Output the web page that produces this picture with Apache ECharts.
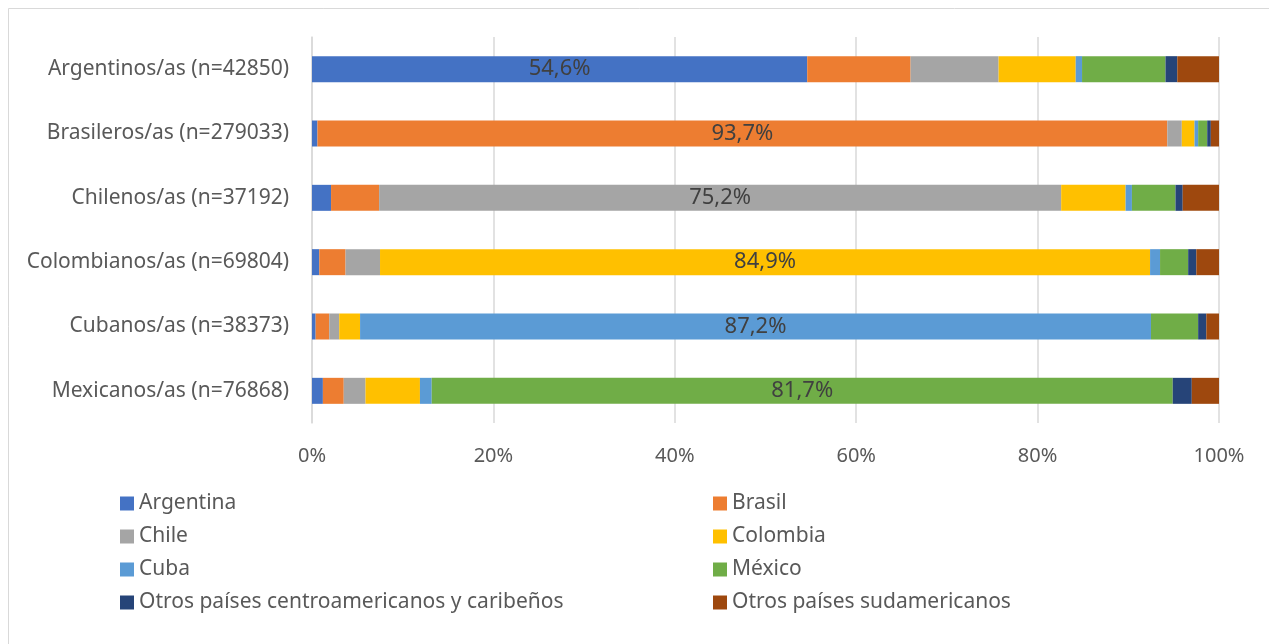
<!DOCTYPE html>
<html>
<head>
<meta charset="utf-8">
<script src="https://cdn.jsdelivr.net/npm/echarts@6/dist/echarts.min.js"></script>
<style>
  html, body { margin: 0; padding: 0; background: #fff; }
  #chart { width: 1269px; height: 644px; }
</style>
</head>
<body>
<div id="chart"></div>
<script>
// Categories (rows, top to bottom)
const categories = [
  "Argentinos/as (n=42850)",
  "Brasileros/as (n=279033)",
  "Chilenos/as (n=37192)",
  "Colombianos/as (n=69804)",
  "Cubanos/as (n=38373)",
  "Mexicanos/as (n=76868)"
];

// Share (%) of each destination country, one value per row
const argentina = [54.6, 0.6, 2.1, 0.8, 0.4, 1.2];
const brasil    = [11.4, 93.7, 5.3, 2.9, 1.5, 2.3];
const chile     = [9.7, 1.6, 75.2, 3.8, 1.1, 2.4];
const colombia  = [8.5, 1.4, 7.1, 84.9, 2.3, 6.0];
const cuba      = [0.7, 0.4, 0.7, 1.1, 87.2, 1.3];
const mexico    = [9.2, 1.0, 4.8, 3.1, 5.2, 81.7];
const otrosCA   = [1.3, 0.4, 0.8, 0.9, 0.9, 2.1];
const otrosSA   = [4.6, 0.9, 4.0, 2.5, 1.4, 3.0];

const seriesNames = [
  "Argentina", "Brasil", "Chile", "Colombia",
  "Cuba", "México", "Otros países centroamericanos y caribeños", "Otros países sudamericanos"
];
const seriesValues = [argentina, brasil, chile, colombia, cuba, mexico, otrosCA, otrosSA];
const colors = ["#4472C4", "#ED7D31", "#A5A5A5", "#FFC000", "#5B9BD5", "#70AD47", "#264478", "#9E480E"];

const xTicks = [0, 20, 40, 60, 80, 100];

const FONT = "'Noto Sans', sans-serif";

const chart = echarts.init(document.getElementById("chart"), null, { renderer: "canvas" });

// only the dominant share of each row carries a label (series i on row i)
const series = seriesNames.map((name, i) => ({
  name: name,
  type: "bar",
  stack: "total",
  barWidth: 26,
  itemStyle: { color: colors[i] },
  data: seriesValues[i].map((v, j) => ({
    value: v,
    label: {
      show: i === j,
      position: "inside",
      color: "#404040",
      fontSize: 22,
      fontFamily: FONT,
      formatter: p => p.value.toFixed(1).replace(".", ",") + "%"
    }
  }))
}));

const legendBase = {
  orient: "vertical",
  icon: "rect",
  itemWidth: 14,
  itemHeight: 14,
  itemGap: 12,
  top: 488,
  selectedMode: false,
  textStyle: { color: "#595959", fontSize: 21, lineHeight: 21, fontFamily: FONT }
};

chart.setOption({
  animation: false,
  backgroundColor: "#fff",
  textStyle: { fontFamily: FONT },
  graphic: [{
    type: "rect",
    shape: { x: 8.5, y: 8.5, width: 1400, height: 800 },
    style: { fill: null, stroke: "#d9d9d9", lineWidth: 1 },
    silent: true
  }],
  grid: { left: 312, right: 50, top: 37, bottom: 221 },
  xAxis: {
    type: "value",
    min: 0,
    max: 100,
    interval: 20,
    axisLine: { show: false },
    axisTick: { show: false },
    splitLine: { lineStyle: { color: "#d9d9d9", width: 1.5 } },
    axisLabel: {
      color: "#595959",
      fontSize: 20,
      margin: 23,
      fontFamily: FONT,
      formatter: v => (xTicks.includes(v) ? v + "%" : "")
    }
  },
  yAxis: {
    type: "category",
    inverse: true,
    data: categories,
    axisLine: { show: true, lineStyle: { color: "#d9d9d9", width: 1.5 } },
    axisTick: { show: false },
    axisLabel: { color: "#595959", fontSize: 21, margin: 23, fontFamily: FONT }
  },
  legend: [
    Object.assign({}, legendBase, {
      left: 115,
      data: ["Argentina", "Chile", "Cuba", "Otros países centroamericanos y caribeños"]
    }),
    Object.assign({}, legendBase, {
      left: 708,
      data: ["Brasil", "Colombia", "México", "Otros países sudamericanos"]
    })
  ],
  series: series
});
</script>
</body>
</html>
